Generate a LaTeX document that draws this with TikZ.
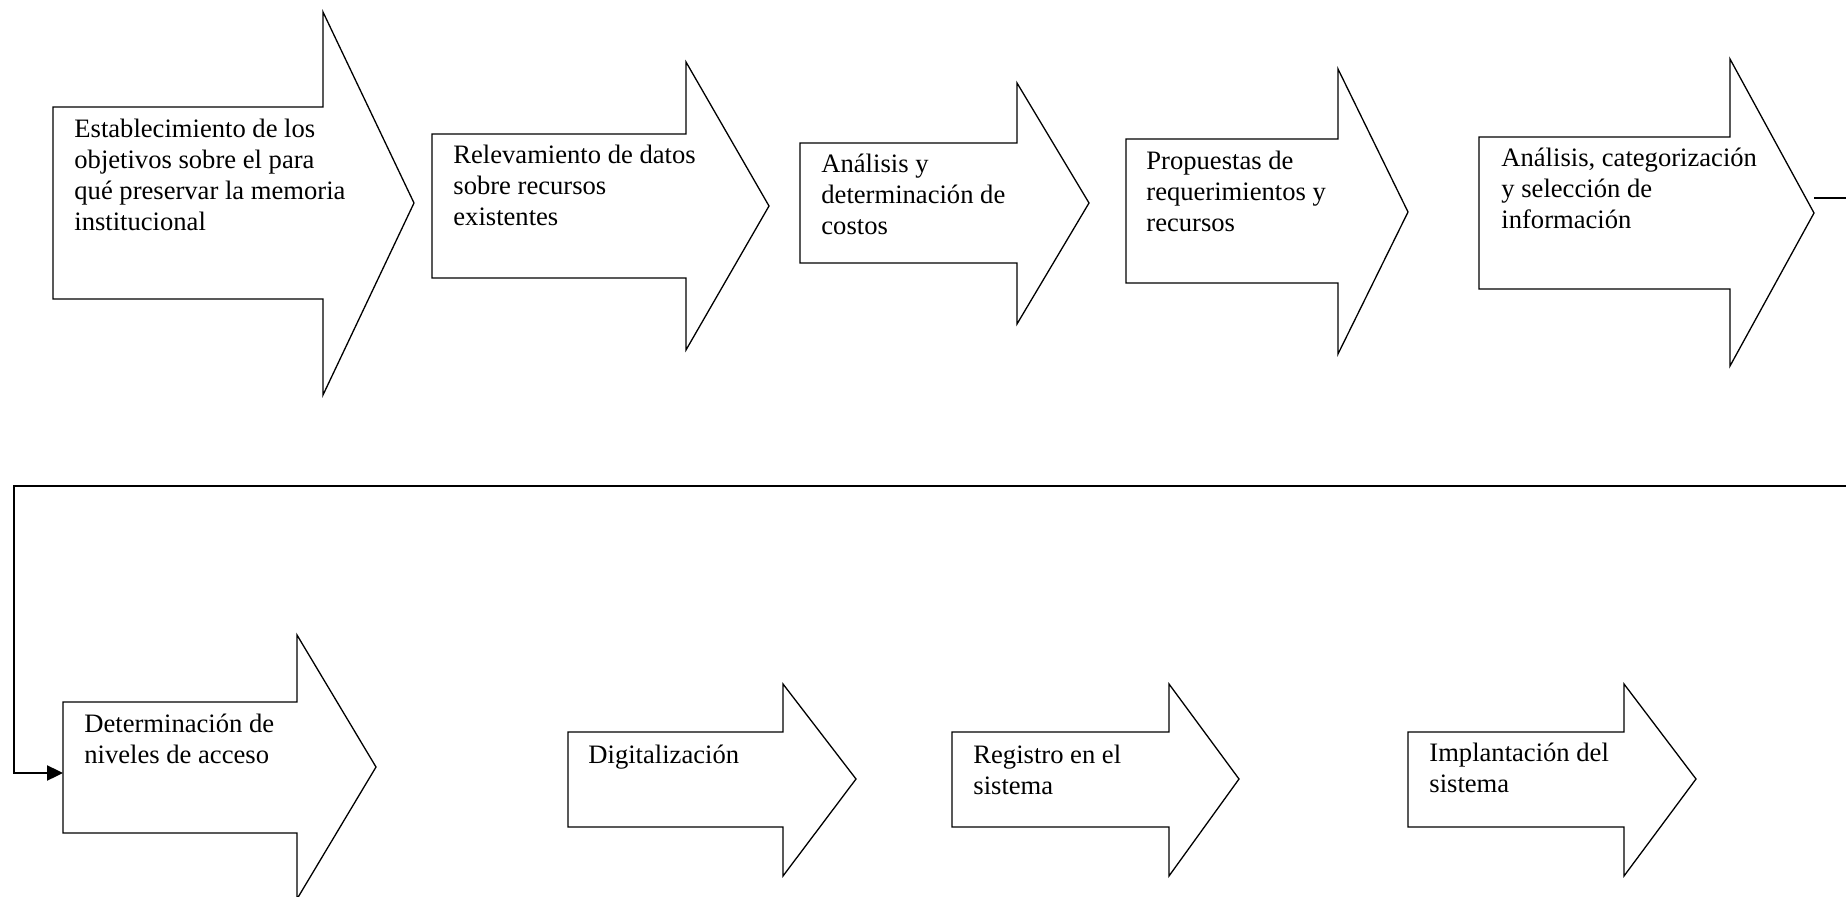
\documentclass[tikz,border=0pt]{standalone}
\usepackage{fontspec}
\setmainfont{Liberation Serif}
\usetikzlibrary{arrows.meta}

% first-line strut so every label's top edge sits a fixed height above its first baseline
\newcommand\fl{\rule{0pt}{13pt}}

% block arrow: left, body top, body bottom, shaft end, head top, head bottom, tip x, tip y
\newcommand\blockarrow[9]{%
  \draw[outline] (#2,#3) -- (#5,#3) -- (#5,#6) -- (#8,#9) -- (#5,#7) -- (#5,#4) -- (#2,#4) -- cycle;
  \coordinate (#1-tip) at (#8,#9);
  \coordinate (#1-west) at (#2,{(#3+#4)/2});
}

\begin{document}
\begin{tikzpicture}[x=0.5pt,y=-0.5pt,
  outline/.style={draw=black,line width=0.65pt,line join=miter},
  link/.style={draw=black,line width=1.2pt},
  lbl/.style={anchor=north west,inner sep=0pt,align=left,
    font=\fontsize{13.3pt}{15.5pt}\selectfont}]
\useasboundingbox (0,0) rectangle (1846,897);
\clip (0,0) rectangle (1846,897);
\fill[white] (0,0) rectangle (1846,897);

% first row
\blockarrow{a1}{53}{107}{299}{323}{12}{395}{414}{203}
\blockarrow{a2}{432}{134}{278}{686}{62}{350}{769}{206}
\blockarrow{a3}{800}{143}{263}{1017}{83}{324}{1089}{203}
\blockarrow{a4}{1126}{139}{283}{1338}{69}{354}{1408}{212}
\blockarrow{a5}{1479}{137}{289}{1730}{59}{366}{1814}{213}

% second row
\blockarrow{a6}{63}{702}{833}{297}{635}{899}{376}{767}
\blockarrow{a7}{568}{732}{827}{783}{684}{876}{856}{779}
\blockarrow{a8}{952}{732}{827}{1169}{684}{876}{1239}{779}
\blockarrow{a9}{1408}{732}{827}{1624}{684}{876}{1696}{779}

% labels (top = first baseline - 26)
\node[lbl] (t1) at (74,111) {\fl Establecimiento de los\\objetivos sobre el para\\qué preservar la memoria\\institucional};
\node[lbl] (t2) at (453,137) {\fl Relevamiento de datos\\sobre recursos\\existentes};
\node[lbl] (t3) at (821,146) {\fl Análisis y\\determinación de\\costos};
\node[lbl] (t4) at (1146,143) {\fl Propuestas de\\requerimientos y\\recursos};
\node[lbl] (t5) at (1501,140) {\fl Análisis, categorización\\y selección de\\información};
\node[lbl] (t6) at (84,706) {\fl Determinación de\\niveles de acceso};
\node[lbl] (t7) at (588,737) {\fl Digitalización};
\node[lbl] (t8) at (973,737) {\fl Registro en el\\sistema};
\node[lbl] (t9) at (1429,735) {\fl Implantación del\\sistema};

% connector from the first row back to the second row
\coordinate (out5) at (1814,198);
\coordinate (in6) at (63,773);
\coordinate (farright) at (1900,198);
\draw[link,-{Triangle[length=8pt,width=7.5pt]}]
  (out5) -- (farright) |- (14,486) |- (in6);
\end{tikzpicture}
\end{document}
